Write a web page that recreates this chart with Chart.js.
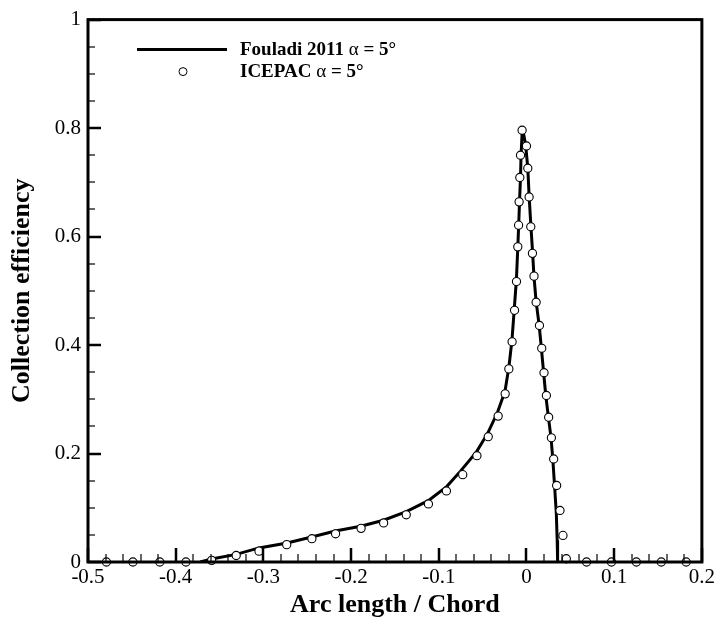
<!DOCTYPE html>
<html>
<head>
<meta charset="utf-8">
<script src="https://cdn.jsdelivr.net/npm/chart.js@4/dist/chart.umd.min.js"></script>
<style>
  html, body { margin: 0; padding: 0; background: #fff; }
  #wrap { width: 718px; height: 623px; }
</style>
</head>
<body>
<div id="wrap"><canvas id="chart" width="718" height="623"></canvas></div>
<script>
// Fouladi 2011, alpha = 5 deg (solid line)
var fouladiX = [-0.372, -0.359, -0.331, -0.305, -0.273, -0.245, -0.218, -0.189, -0.163, -0.137,
                -0.112, -0.091, -0.075, -0.057, -0.044, -0.033, -0.0245, -0.020, -0.0165, -0.014,
                -0.0115, -0.0099, -0.0088, -0.0078, -0.0068, -0.0062, -0.005, -0.004, -0.001, 0.0015,
                0.003, 0.005, 0.007, 0.0085, 0.011, 0.0145, 0.017, 0.0195, 0.022, 0.025,
                0.028, 0.030, 0.032, 0.034, 0.035, 0.0355];
var fouladiY = [0, 0.0055, 0.014, 0.026, 0.035, 0.046, 0.057, 0.066, 0.077, 0.093,
                0.113, 0.139, 0.168, 0.203, 0.238, 0.276, 0.315, 0.36, 0.41, 0.465,
                0.52, 0.58, 0.625, 0.67, 0.71, 0.75, 0.79, 0.795, 0.77, 0.726,
                0.675, 0.62, 0.57, 0.527, 0.48, 0.436, 0.394, 0.35, 0.307, 0.267,
                0.229, 0.19, 0.141, 0.09, 0.04, 0];

// ICEPAC, alpha = 5 deg (open circles)
var icepacX = [-0.479, -0.4488, -0.4181, -0.3883, -0.359, -0.331, -0.305, -0.2734, -0.2447, -0.2177,
               -0.1886, -0.1629, -0.1371, -0.1118, -0.0913, -0.0727, -0.0565, -0.0436, -0.0323, -0.0243,
               -0.0201, -0.0164, -0.0136, -0.0114, -0.0099, -0.009, -0.0084, -0.0076, -0.0068, -0.005,
               0.000, 0.0015, 0.003, 0.0049, 0.0068, 0.0086, 0.011, 0.0148, 0.0174, 0.020,
               0.0227, 0.0253, 0.0284, 0.031, 0.0344, 0.0382, 0.0416, 0.0454,
               0.0685, 0.0969, 0.1253, 0.1537, 0.1821];
var icepacY = [0, 0, 0, 0, 0.003, 0.012, 0.020, 0.032, 0.043, 0.052,
               0.062, 0.072, 0.087, 0.107, 0.131, 0.161, 0.196, 0.231, 0.269, 0.310,
               0.356, 0.406, 0.464, 0.517, 0.581, 0.621, 0.664, 0.709, 0.750, 0.796,
               0.767, 0.726, 0.673, 0.618, 0.569, 0.527, 0.479, 0.436, 0.394, 0.349,
               0.307, 0.267, 0.229, 0.190, 0.141, 0.095, 0.049, 0.006,
               0, 0, 0, 0, 0];

var xRange = [-0.5, 0.2];
var yRange = [0, 1];
var xTitle = 'Arc length / Chord';
var yTitle = 'Collection efficiency';
var serif = '"Liberation Serif", "Times New Roman", serif';

function points(xs, ys) {
    return xs.map(function (x, i) { return { x: x, y: ys[i] }; });
}

// plain tick text: 0, 0.2, ... 1 and -0.5 ... 0.2
function tickText(v) {
    var n = Number(v.toFixed(3));
    if (n === 0) return '0';
    return String(n);
}

// frame + inward ticks, Tecplot style (left and bottom axes only)
var framePlugin = {
    id: 'frame',
    afterDatasetsDraw: function (chart) {
        var ctx = chart.ctx, a = chart.chartArea;
        var xs = chart.scales.x, ys = chart.scales.y;
        ctx.save();
        ctx.strokeStyle = '#000';
        ctx.lineCap = 'butt';
        var i, px, py, major;
        for (i = 0; i <= 35; i++) {
            px = Math.round(xs.getPixelForValue(xRange[0] + i * 0.02));
            major = i % 5 === 0;
            ctx.lineWidth = major ? 2.5 : 1.2;
            ctx.beginPath();
            ctx.moveTo(px, a.bottom);
            ctx.lineTo(px, a.bottom - (major ? 14 : 8));
            ctx.stroke();
        }
        for (i = 0; i <= 20; i++) {
            py = Math.round(ys.getPixelForValue(yRange[0] + i * 0.05));
            major = i % 4 === 0;
            ctx.lineWidth = major ? 2.5 : 1.2;
            ctx.beginPath();
            ctx.moveTo(a.left, py);
            ctx.lineTo(a.left + (major ? 13 : 7), py);
            ctx.stroke();
        }
        ctx.lineWidth = 3;
        ctx.strokeRect(a.left, a.top, a.right - a.left, a.bottom - a.top);
        ctx.restore();
    }
};

// legend drawn inside the plot, top left
var legendPlugin = {
    id: 'innerLegend',
    afterDraw: function (chart) {
        var ctx = chart.ctx, a = chart.chartArea;
        var x0 = a.left + 49, tx = a.left + 152;
        var rows = [
            { y: a.top + 30, name: 'Fouladi 2011 ', line: true },
            { y: a.top + 52, name: 'ICEPAC ', line: false }
        ];
        ctx.save();
        ctx.fillStyle = '#000';
        ctx.strokeStyle = '#000';
        ctx.textBaseline = 'middle';
        rows.forEach(function (r) {
            if (r.line) {
                ctx.lineWidth = 3;
                ctx.beginPath();
                ctx.moveTo(x0, r.y);
                ctx.lineTo(x0 + 90, r.y);
                ctx.stroke();
            } else {
                ctx.lineWidth = 1;
                ctx.fillStyle = '#fff';
                ctx.beginPath();
                ctx.arc(x0 + 46, r.y, 4, 0, Math.PI * 2);
                ctx.fill();
                ctx.stroke();
                ctx.fillStyle = '#000';
            }
            var x = tx;
            ctx.font = 'bold 19px ' + serif;
            ctx.fillText(r.name, x, r.y);
            x += ctx.measureText(r.name).width;
            ctx.font = '19px ' + serif;
            ctx.fillText('\u03B1', x, r.y);
            x += ctx.measureText('\u03B1').width;
            ctx.font = 'bold 19px ' + serif;
            ctx.fillText(' = 5\u00B0', x, r.y);
        });
        ctx.restore();
    }
};

new Chart(document.getElementById('chart'), {
    type: 'scatter',
    data: {
        datasets: [
            {
                label: 'ICEPAC \u03B1 = 5\u00B0',
                data: points(icepacX, icepacY),
                showLine: false,
                pointRadius: 4.1,
                pointBackgroundColor: '#fff',
                pointBorderColor: '#000',
                pointBorderWidth: 1.1,
                clip: false,
                order: 0
            },
            {
                label: 'Fouladi 2011 \u03B1 = 5\u00B0',
                data: points(fouladiX, fouladiY),
                showLine: true,
                borderColor: '#000',
                borderWidth: 3,
                pointRadius: 0,
                fill: false,
                tension: 0,
                order: 1
            }
        ]
    },
    options: {
        responsive: false,
        animation: false,
        devicePixelRatio: 1,
        layout: { padding: { left: 0, right: 14, top: 15, bottom: 0 } },
        plugins: {
            legend: { display: false },
            tooltip: { enabled: false }
        },
        scales: {
            x: {
                type: 'linear',
                min: xRange[0],
                max: xRange[1],
                grid: { display: false, drawTicks: false },
                border: { display: false },
                ticks: {
                    stepSize: 0.1, padding: 3, color: '#000',
                    font: { family: serif, size: 21 },
                    callback: tickText
                },
                title: {
                    display: true, text: xTitle, color: '#000',
                    font: { family: serif, size: 26, weight: 'bold' },
                    padding: { top: 0, bottom: 2 }
                },
                afterFit: function (s) { s.height = 61; }
            },
            y: {
                type: 'linear',
                min: yRange[0],
                max: yRange[1],
                grid: { display: false, drawTicks: false },
                border: { display: false },
                ticks: {
                    stepSize: 0.2, padding: 7, color: '#000',
                    font: { family: serif, size: 21 },
                    callback: tickText
                },
                title: {
                    display: true, text: yTitle, color: '#000',
                    font: { family: serif, size: 26, weight: 'bold' },
                    padding: { top: 7, bottom: 0 }
                },
                afterFit: function (s) { s.width = 88; }
            }
        }
    },
    plugins: [framePlugin, legendPlugin]
});
</script>
</body>
</html>
